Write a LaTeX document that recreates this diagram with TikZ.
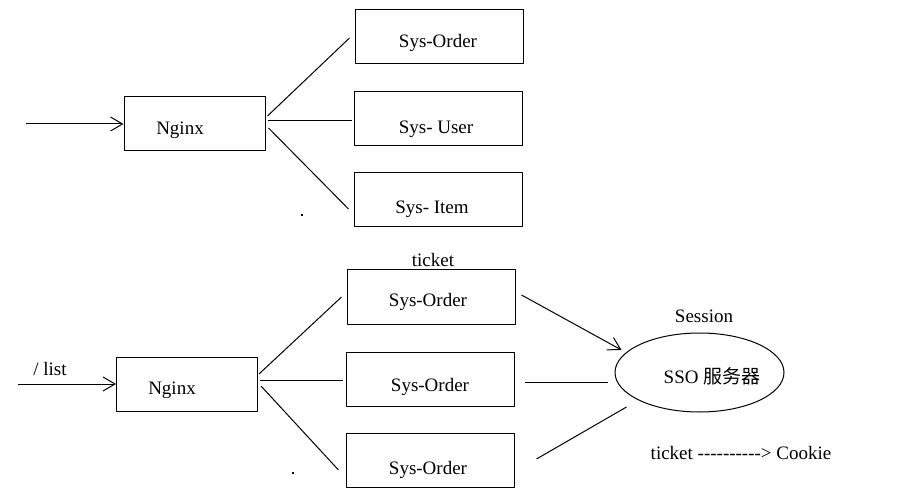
\documentclass[tikz,border=0pt]{standalone}
\usepackage{fontspec}
\setmainfont{Liberation Serif}
\newfontfamily\cjk{Noto Sans CJK SC}
\usetikzlibrary{shapes.geometric,arrows.meta}
\tikzset{
  sysbox/.style={draw, minimum width=84pt, minimum height=27pt, inner sep=0pt},
  ngbox/.style={draw, minimum width=70.5pt, minimum height=27pt, inner sep=0pt},
  txt/.style={inner sep=0pt}
}
\begin{document}
\begin{tikzpicture}[x=0.5pt, y=-0.5pt, font=\fontsize{9.5}{11}\selectfont, line width=0.5pt, line join=round, >={Straight Barb[length=6pt,width=7pt]}]
\useasboundingbox (0,0) rectangle (919,491);
% top
\node[ngbox] (ng1) at (194.5,124) {};
\node[txt] (tng1) at (180,130) {Nginx};
\node[sysbox] (so1) at (439,37) {};
\node[txt] (tso1) at (438,43) {Sys-Order};
\node[sysbox] (su1) at (438,119) {};
\node[txt] (tsu1) at (436,129) {Sys- User};
\node[sysbox] (si1) at (438,200) {};
\node[txt] (tsi1) at (432,209) {Sys- Item};
\coordinate (in1) at (26,124);
\draw[->] (in1) -- (ng1.west);
\draw ([shift={(2,-8)}]ng1.east) -- ([shift={(-5,1)}]so1.west);
\draw ([shift={(2,-3)}]ng1.east) -- ([shift={(-2,2)}]su1.west);
\draw ([shift={(3,4)}]ng1.east) -- ([shift={(-5,9)}]si1.west);
\fill (301,214) rectangle (303,216);
% bottom
\node[ngbox] (ng2) at (187,384) {};
\node[txt] (tng2) at (172,390) {Nginx};
\node[txt] (list) at (50,369) {/ list};
\coordinate (in2) at (18,384);
\draw[->] (in2) -- (ng2.west);
\node[txt] (tk) at (433,260) {ticket};
\node[sysbox] (sy1) at (431,297) {};
\node[txt] (tsy1) at (428,302) {Sys-Order};
\node[sysbox] (sy2) at (430,379) {};
\node[txt] (tsy2) at (430,387) {Sys-Order};
\node[sysbox] (sy3) at (430,460) {};
\node[txt] (tsy3) at (428,470) {Sys-Order};
\draw ([shift={(1,-10)}]ng2.east) -- ([shift={(-5,0)}]sy1.west);
\draw ([shift={(2,-4)}]ng2.east) -- ([shift={(-3,1)}]sy2.west);
\draw ([shift={(3,2)}]ng2.east) -- ([shift={(-7,10)}]sy3.west);
\fill (292,472) rectangle (294,474);
% sso
\node[draw, ellipse, minimum width=84.5pt, minimum height=39.5pt, inner sep=0pt] (sso) at (699.5,372.5) {};
\node[txt] (tsso) at (712,376) {SSO {\cjk 服务器}};
\node[txt] (sess) at (704,316) {Session};
\draw[->] ([shift={(6,-2)}]sy1.east) -- ([shift={(7,-22.5)}]sso.west);
\draw ([shift={(10,3)}]sy2.east) -- ([shift={(-7,9.5)}]sso.west);
\draw ([shift={(22,-1)}]sy3.east) -- ([shift={(12,34.5)}]sso.west);
\node[txt] (ck) at (741,453) {ticket -{}-{}-{}-{}-{}-{}-{}-{}-{}-{}> Cookie};
\end{tikzpicture}
\end{document}
